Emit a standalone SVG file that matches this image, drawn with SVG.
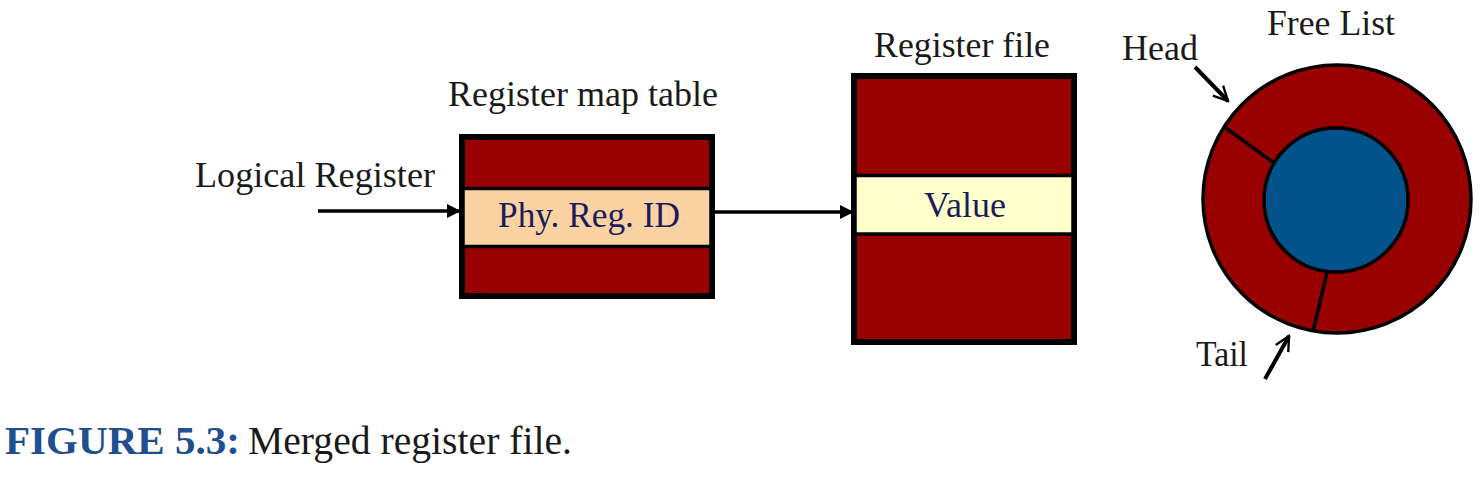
<svg xmlns="http://www.w3.org/2000/svg" width="1481" height="478" viewBox="0 0 1481 478">
<style>
.lbl{font-family:"Liberation Serif","Times New Roman",serif;font-size:36px;fill:#1a1a1a}
.in{font-family:"Liberation Serif","Times New Roman",serif;font-size:36px;fill:#1c1c5c}
.box{fill:#990000;stroke:#000;stroke-width:4}
.band{stroke:#000;stroke-width:3.5}
.con{stroke:#000;stroke-width:3.5;fill:none}
.ptr{stroke:#000;stroke-width:4;fill:none}
.cap{font-family:"Liberation Serif","Times New Roman",serif;font-size:41px}
</style>
<defs>
<marker id="tri" viewBox="0 0 10 10" refX="10" refY="5" markerWidth="4.2" markerHeight="4" orient="auto" markerUnits="strokeWidth">
<path d="M0,0 L10,5 L0,10 z" fill="#000"/>
</marker>
<marker id="vee" viewBox="0 0 10 10" refX="9" refY="5" markerWidth="4.5" markerHeight="4.5" orient="auto" markerUnits="strokeWidth">
<path d="M1,1 L9,5 L1,9" fill="none" stroke="#000" stroke-width="1.3"/>
</marker>
</defs>
<rect width="1481" height="478" fill="#fff"/>

<g id="map-table">
<rect class="box" x="463" y="138" width="248" height="157"/>
<rect class="band" x="463" y="188.5" width="248" height="58" fill="#FBD3A3"/>
<rect x="461" y="136" width="252" height="161" fill="none" stroke="#000" stroke-width="4"/>
<text class="lbl" x="583" y="106" text-anchor="middle" textLength="270" lengthAdjust="spacingAndGlyphs">Register map table</text>
<text class="in" x="589" y="227" text-anchor="middle" textLength="182" lengthAdjust="spacingAndGlyphs">Phy. Reg. ID</text>
</g>

<g id="register-file">
<rect class="box" x="855" y="77" width="218" height="264"/>
<rect class="band" x="855" y="175.5" width="218" height="58.5" fill="#FFFFCC"/>
<rect x="853" y="75" width="222" height="268" fill="none" stroke="#000" stroke-width="4"/>
<text class="lbl" x="962" y="57" text-anchor="middle" textLength="176" lengthAdjust="spacingAndGlyphs">Register file</text>
<text class="in" x="965" y="217" text-anchor="middle" textLength="82" lengthAdjust="spacingAndGlyphs">Value</text>
</g>

<g id="free-list">
<circle cx="1337" cy="199" r="134" fill="#990000" stroke="#000" stroke-width="3.5"/>
<circle cx="1336" cy="200" r="72" fill="#02528C" stroke="#000" stroke-width="3.5"/>
<line x1="1226" y1="128" x2="1274" y2="163" stroke="#000" stroke-width="3.5"/>
<line x1="1327" y1="272" x2="1313" y2="332" stroke="#000" stroke-width="3.5"/>
<text class="lbl" x="1331" y="35" text-anchor="middle" textLength="128" lengthAdjust="spacingAndGlyphs">Free List</text>
</g>

<g id="logical-register">
<text class="lbl" x="315" y="187" text-anchor="middle" textLength="240" lengthAdjust="spacingAndGlyphs">Logical Register</text>
</g>

<g id="head">
<text class="lbl" x="1160" y="60" text-anchor="middle" textLength="76" lengthAdjust="spacingAndGlyphs">Head</text>
</g>

<g id="tail">
<text class="lbl" x="1222" y="366" text-anchor="middle" textLength="52" lengthAdjust="spacingAndGlyphs">Tail</text>
</g>

<g id="connectors">
<line class="con" x1="318" y1="211" x2="461" y2="211" marker-end="url(#tri)"/>
<line class="con" x1="713" y1="212" x2="854" y2="212" marker-end="url(#tri)"/>
<line class="ptr" x1="1195" y1="67" x2="1228" y2="101" marker-end="url(#vee)"/>
<line class="ptr" x1="1265" y1="379" x2="1289" y2="336" marker-end="url(#vee)"/>
</g>

<g id="caption">
<text class="cap" x="5" y="454" font-weight="bold" fill="#1F4F8F" textLength="235" lengthAdjust="spacingAndGlyphs">FIGURE 5.3:</text>
<text class="cap" x="248" y="454" fill="#1a1a1a" textLength="324" lengthAdjust="spacingAndGlyphs">Merged register file.</text>
</g>
</svg>
